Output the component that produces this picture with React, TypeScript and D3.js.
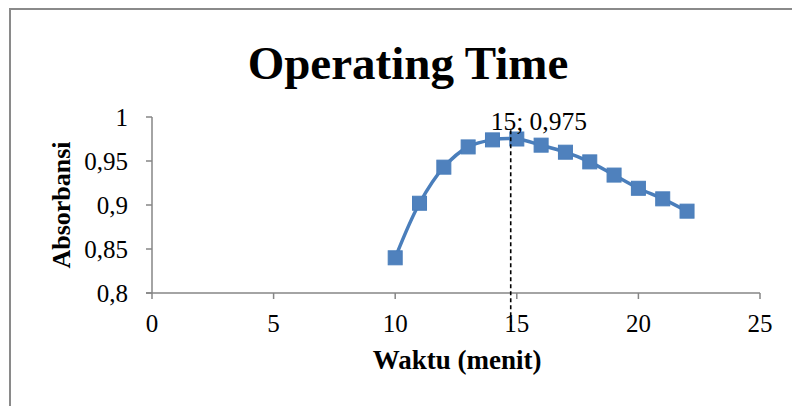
import { useEffect, useRef } from 'react';
import * as d3 from 'd3';

const waktu = [10, 11, 12, 13, 14, 15, 16, 17, 18, 19, 20, 21, 22];
const absorbansi = [0.84, 0.902, 0.943, 0.966, 0.974, 0.975, 0.968, 0.96, 0.949, 0.934, 0.919, 0.907, 0.893];
const xTicks = [0, 5, 10, 15, 20, 25];
const yTicks = [0.8, 0.85, 0.9, 0.95, 1];
const peakLabel = '15; 0,975';
const peakX = 15;
const peakY = 0.975;
const guideX = 14.75; // garis putus-putus digambar manual

const W = 792;
const H = 406;
const FONT = '"Liberation Serif", "Times New Roman", serif';
const AXIS = '#868686';
const BLUE = '#4a7ebb';

const fmt = (v: number) => String(+v.toFixed(2)).replace('.', ',');

export default function App() {
  const svgRef = useRef<SVGSVGElement>(null);

  useEffect(() => {
    if (!svgRef.current) return;
    const svg = d3.select(svgRef.current);
    svg.selectAll('*').remove();

    const x = d3.scaleLinear().domain([0, 25]).range([152, 760]);
    const y = d3.scaleLinear().domain([0.8, 1]).range([293, 117]);

    // bingkai area grafik
    svg
      .append('rect')
      .attr('x', 10)
      .attr('y', 9)
      .attr('width', 820)
      .attr('height', 440)
      .attr('fill', '#fff')
      .attr('stroke', '#8a8a8a')
      .attr('stroke-width', 2);

    svg
      .append('text')
      .attr('x', 408)
      .attr('y', 79)
      .attr('text-anchor', 'middle')
      .style('font-family', FONT)
      .style('font-size', '47px')
      .style('font-weight', 'bold')
      .text('Operating Time');

    // sumbu y
    const gy = svg.append('g');
    gy.append('line')
      .attr('x1', x(0))
      .attr('x2', x(0))
      .attr('y1', y(1))
      .attr('y2', y(0.8))
      .attr('stroke', AXIS)
      .attr('stroke-width', 1.5);
    yTicks.forEach((t) => {
      gy.append('line')
        .attr('x1', x(0) - 6)
        .attr('x2', x(0))
        .attr('y1', y(t))
        .attr('y2', y(t))
        .attr('stroke', AXIS)
        .attr('stroke-width', 1.5);
      gy.append('text')
        .attr('x', x(0) - 24)
        .attr('y', y(t) + 8.5)
        .attr('text-anchor', 'end')
        .style('font-family', FONT)
        .style('font-size', '25px')
        .text(fmt(t));
    });

    // sumbu x
    const gx = svg.append('g');
    gx.append('line')
      .attr('x1', x(0) - 6)
      .attr('x2', x(25))
      .attr('y1', y(0.8))
      .attr('y2', y(0.8))
      .attr('stroke', AXIS)
      .attr('stroke-width', 1.5);
    xTicks.forEach((t) => {
      gx.append('line')
        .attr('x1', x(t))
        .attr('x2', x(t))
        .attr('y1', y(0.8))
        .attr('y2', y(0.8) + 6)
        .attr('stroke', AXIS)
        .attr('stroke-width', 1.5);
      gx.append('text')
        .attr('x', x(t))
        .attr('y', y(0.8) + 39)
        .attr('text-anchor', 'middle')
        .style('font-family', FONT)
        .style('font-size', '25px')
        .text(fmt(t));
    });

    svg
      .append('text')
      .attr('x', 457)
      .attr('y', 369)
      .attr('text-anchor', 'middle')
      .style('font-family', FONT)
      .style('font-size', '27px')
      .style('font-weight', 'bold')
      .text('Waktu (menit)');

    svg
      .append('text')
      .attr('transform', `translate(70,205) rotate(-90)`)
      .attr('text-anchor', 'middle')
      .style('font-family', FONT)
      .style('font-size', '26px')
      .style('font-weight', 'bold')
      .text('Absorbansi');

    const pts = waktu.map((w, i) => [w, absorbansi[i]] as [number, number]);
    const line = d3
      .line<[number, number]>()
      .x((d) => x(d[0]))
      .y((d) => y(d[1]))
      .curve(d3.curveCatmullRom.alpha(0.5));

    svg
      .append('path')
      .attr('d', line(pts))
      .attr('fill', 'none')
      .attr('stroke', BLUE)
      .attr('stroke-width', 3.5);

    svg
      .selectAll('rect.mk')
      .data(pts)
      .join('rect')
      .attr('class', 'mk')
      .attr('x', (d) => x(d[0]) - 7)
      .attr('y', (d) => y(d[1]) - 7)
      .attr('width', 14)
      .attr('height', 14)
      .attr('fill', '#4f81bd')
      .attr('stroke', BLUE)
      .attr('stroke-width', 1);

    svg
      .append('line')
      .attr('x1', x(guideX))
      .attr('x2', x(guideX))
      .attr('y1', y(0.985))
      .attr('y2', y(0.8) + 39)
      .attr('stroke', '#000')
      .attr('stroke-width', 1.6)
      .attr('stroke-dasharray', '4,3');

    svg
      .append('text')
      .attr('x', x(peakX) + 22)
      .attr('y', y(peakY) - 9)
      .attr('text-anchor', 'middle')
      .style('font-family', FONT)
      .style('font-size', '25.5px')
      .text(peakLabel);
  }, []);

  return (
    <svg
      ref={svgRef}
      width={W}
      height={H}
      viewBox={`0 0 ${W} ${H}`}
      style={{ position: 'absolute', left: 0, top: 0, background: '#fff' }}
    />
  );
}
